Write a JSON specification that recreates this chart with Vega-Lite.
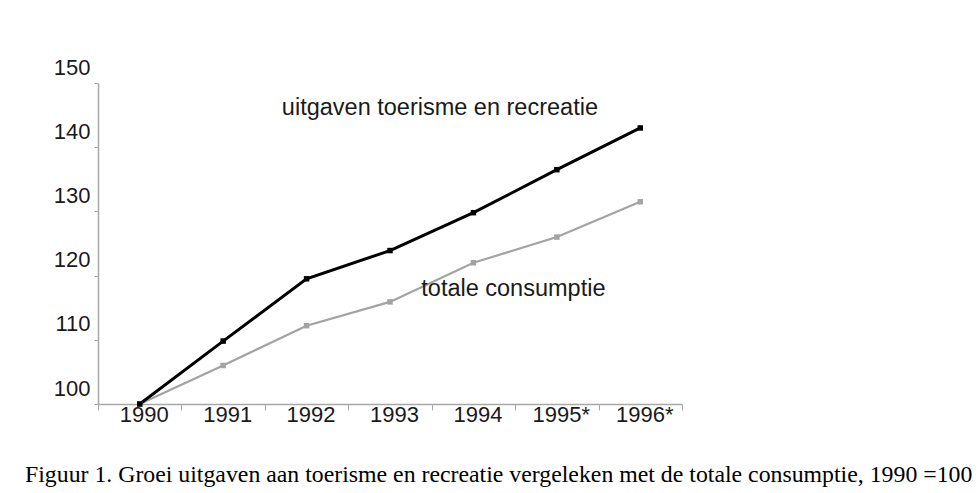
{
  "$schema": "https://vega.github.io/schema/vega-lite/v6.json",
  "autosize": "none",
  "width": 584,
  "height": 321,
  "padding": {"left": 98, "top": 83, "right": 297, "bottom": 89},
  "background": "white",
  "config": {"view": {"stroke": null}},
  "title": {
    "text": "Figuur 1. Groei uitgaven aan toerisme en recreatie vergeleken met de totale consumptie, 1990 =100",
    "orient": "bottom",
    "anchor": "start",
    "frame": "group",
    "dx": -73,
    "offset": 38,
    "font": "Liberation Serif",
    "fontSize": 23.8,
    "fontWeight": "normal",
    "color": "#000000"
  },
  "datasets": {
    "series": [
      {"year": "1990", "serie": "totale consumptie", "value": 100},
      {"year": "1991", "serie": "totale consumptie", "value": 106},
      {"year": "1992", "serie": "totale consumptie", "value": 112.2},
      {"year": "1993", "serie": "totale consumptie", "value": 115.9},
      {"year": "1994", "serie": "totale consumptie", "value": 122},
      {"year": "1995*", "serie": "totale consumptie", "value": 126},
      {"year": "1996*", "serie": "totale consumptie", "value": 131.5},
      {"year": "1990", "serie": "uitgaven toerisme en recreatie", "value": 100},
      {"year": "1991", "serie": "uitgaven toerisme en recreatie", "value": 109.8},
      {"year": "1992", "serie": "uitgaven toerisme en recreatie", "value": 119.5},
      {"year": "1993", "serie": "uitgaven toerisme en recreatie", "value": 123.9},
      {"year": "1994", "serie": "uitgaven toerisme en recreatie", "value": 129.8},
      {"year": "1995*", "serie": "uitgaven toerisme en recreatie", "value": 136.5},
      {"year": "1996*", "serie": "uitgaven toerisme en recreatie", "value": 143}
    ],
    "labels": [
      {"year": "1992", "value": 146.1, "label": "uitgaven toerisme en recreatie", "dx": 17},
      {"year": "1993", "value": 117.9, "label": "totale consumptie", "dx": 73}
    ]
  },
  "encoding": {
    "x": {
      "field": "year",
      "type": "ordinal",
      "sort": ["1990", "1991", "1992", "1993", "1994", "1995*", "1996*"],
      "scale": {"type": "band", "paddingInner": 0, "paddingOuter": 0},
      "axis": {
        "title": null,
        "tickBand": "extent",
        "labelAngle": 0,
        "labelFont": "Liberation Sans",
        "labelFontSize": 22,
        "labelColor": "#1a1a1a",
        "labelBaseline": "top",
        "labelPadding": -6,
        "labelOffset": 4,
        "tickSize": 6,
        "tickColor": "#a8a8a8",
        "domainColor": "#a8a8a8",
        "domainWidth": 1.5,
        "tickWidth": 1,
        "grid": false
      }
    },
    "y": {
      "field": "value",
      "type": "quantitative",
      "scale": {"domain": [100, 150], "nice": false, "zero": false},
      "axis": {
        "title": null,
        "values": [100, 110, 120, 130, 140, 150],
        "labelFont": "Liberation Sans",
        "labelFontSize": 22,
        "labelColor": "#1a1a1a",
        "labelPadding": 4,
        "labelOffset": -16,
        "labelBaseline": "middle",
        "tickSize": 4,
        "tickColor": "#a8a8a8",
        "domainColor": "#a8a8a8",
        "domainWidth": 1.5,
        "grid": false
      }
    }
  },
  "layer": [
    {
      "data": {"name": "series"},
      "mark": {"type": "line", "point": {"shape": "square", "filled": true, "size": 30, "opacity": 1}},
      "encoding": {
        "color": {
          "field": "serie",
          "type": "nominal",
          "scale": {"domain": ["totale consumptie", "uitgaven toerisme en recreatie"], "range": ["#a3a3a3", "#000000"]},
          "legend": null
        },
        "strokeWidth": {
          "field": "serie",
          "type": "nominal",
          "scale": {"domain": ["totale consumptie", "uitgaven toerisme en recreatie"], "range": [2.2, 3]},
          "legend": null
        },
        "order": {"field": "serie"}
      }
    },
    {
      "data": {"name": "labels"},
      "mark": {"type": "text", "align": "left", "baseline": "middle", "font": "Liberation Sans", "fontSize": 23.5, "color": "#1a1a1a"},
      "encoding": {
        "text": {"field": "label"},
        "xOffset": {"field": "dx", "type": "quantitative", "scale": null}
      }
    }
  ]
}
